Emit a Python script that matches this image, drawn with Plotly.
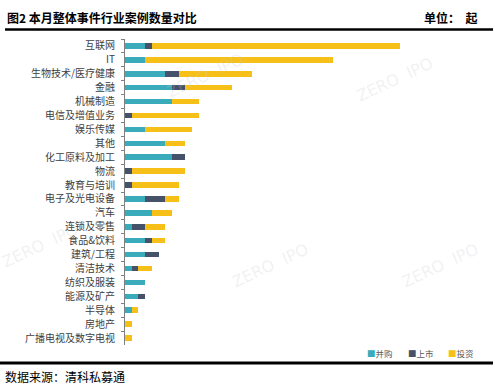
import plotly.graph_objects as go

categories = ["互联网", "IT", "生物技术/医疗健康", "金融", "机械制造", "电信及增值业务", "娱乐传媒",
              "其他", "化工原料及加工", "物流", "教育与培训", "电子及光电设备", "汽车", "连锁及零售",
              "食品&饮料", "建筑/工程", "清洁技术", "纺织及服装", "能源及矿产", "半导体", "房地产",
              "广播电视及数字电视"]
mna = [3, 3, 6, 7, 7, 0, 3, 6, 7, 0, 0, 3, 4, 1, 3, 3, 1, 3, 2, 1, 0, 0]
ipo = [1, 0, 2, 2, 0, 1, 0, 0, 2, 1, 1, 3, 0, 2, 1, 2, 1, 0, 1, 0, 0, 0]
invest = [37, 28, 11, 7, 4, 10, 7, 3, 0, 8, 7, 2, 3, 3, 2, 0, 2, 0, 0, 1, 1, 1]
series_names = ["并购", "上市", "投资"]
colors = ["#3AABBA", "#45526A", "#F6C018"]

W, H = 495, 386
L, R, T, B = 125, 35, 39, 41


def px(x):
    return x / W


def py(y):
    return 1 - y / H


fig = go.Figure()
for name, vals, c in zip(series_names, [mna, ipo, invest], colors):
    fig.add_trace(go.Bar(
        y=categories, x=vals, name=name, orientation="h",
        marker=dict(color=c, line=dict(width=0)),
    ))

# decorative rules (title underline and footer line) on a full-page overlay axis
rule_x = [[5, 493], [0, 493]]
rule_y = [[29.5, 29.5], [363, 363]]
rule_w = [2.5, 3]
for xs, ys, w in zip(rule_x, rule_y, rule_w):
    fig.add_trace(go.Scatter(x=xs, y=ys, mode="lines", xaxis="x2", yaxis="y2",
                             line=dict(color="black", width=w), hoverinfo="skip",
                             showlegend=False, cliponaxis=False))

font_family = "Noto Sans CJK SC"

fig.update_layout(
    width=W, height=H,
    margin=dict(l=0, r=0, t=0, b=0, autoexpand=False),
    barmode="stack", bargap=0.6,
    plot_bgcolor="rgba(0,0,0,0)", paper_bgcolor="white",
    font=dict(family=font_family, color="#404040", size=10),
    showlegend=False,
    xaxis=dict(range=[0, 50], visible=False, domain=[px(L), px(W - R)]),
    yaxis=dict(autorange="reversed", showline=True, linecolor="#808080", linewidth=1,
               domain=[py(H - B), py(T)],
               ticks="outside", ticklen=3, tickcolor="#808080", tickson="boundaries",
               ticklabelstandoff=7,
               tickfont=dict(size=10, color="#404040"), showgrid=False, zeroline=False,
               automargin=False),
    xaxis2=dict(range=[0, W], domain=[0, 1], visible=False, anchor="y2", fixedrange=True),
    yaxis2=dict(range=[H, 0], domain=[0, 1], visible=False, anchor="x2", fixedrange=True),
)

ann = [
    dict(text="<b>图2 本月整体事件行业案例数量对比</b>", x=px(5), y=py(17), xanchor="left", yanchor="middle",
         font=dict(size=12, color="black", family=font_family)),
    dict(text="<b>单位：  起</b>", x=px(479), y=py(17), xanchor="right", yanchor="middle",
         font=dict(size=12, color="black", family=font_family)),
    dict(text="数据来源：清科私募通", x=px(3), y=py(376), xanchor="left", yanchor="middle",
         font=dict(size=12, color="black", family=font_family)),
]
# legend built from text markers
for lx, name, c in zip([365, 406, 446], series_names, colors):
    ann.append(dict(text=f'<span style="color:{c}">■</span>{name}', x=px(lx), y=py(353),
                    xanchor="left", yanchor="middle",
                    font=dict(size=8.5, color="#595959", family=font_family)))
# faint watermarks
for (wx, wy) in [(205, 75), (395, 80), (270, 265), (440, 265), (40, 245)]:
    ann.append(dict(text="ZERO  IPO", x=px(wx), y=py(wy), xanchor="center", yanchor="middle",
                    textangle=-25, font=dict(size=16, color="rgba(200,200,205,0.25)", family="DejaVu Sans")))
for a in ann:
    a.update(xref="paper", yref="paper", showarrow=False)
fig.update_layout(annotations=ann)

fig.write_html("out.html", config={"displayModeBar": False},
               post_script="document.body.style.margin='0';document.body.style.padding='0';")
